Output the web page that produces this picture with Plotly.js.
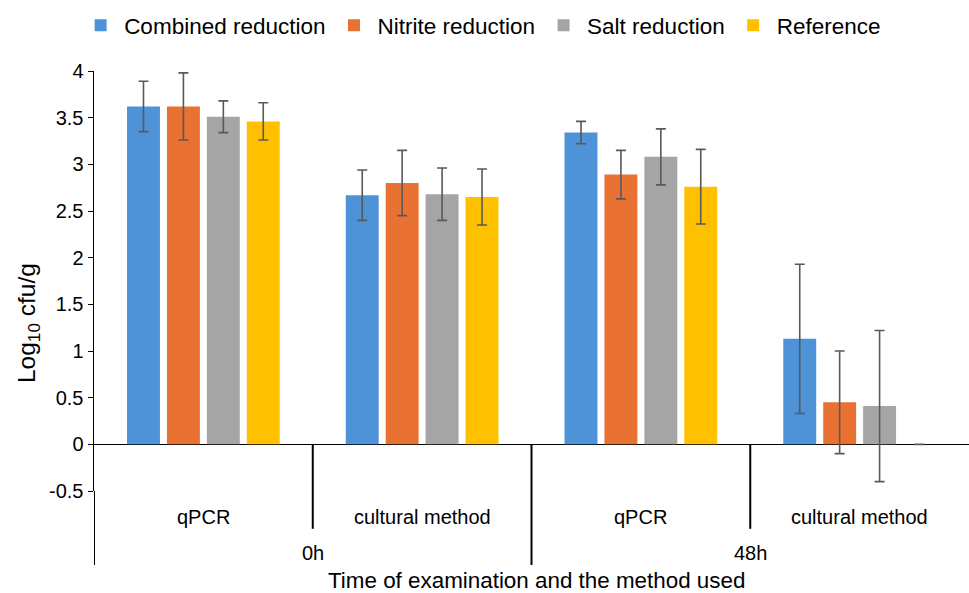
<!DOCTYPE html>
<html>
<head>
<meta charset="utf-8">
<script src="https://cdn.plot.ly/plotly-3.0.1.min.js"></script>
<style>html,body{margin:0;padding:0;background:#fff;}#chart{width:969px;height:593px;}</style>
</head>
<body>
<div id="chart"></div>
<script>
// Data
var outerLabels = ["0h", "0h", "48h", "48h"];
var innerLabels = ["qPCR", "cultural method", "qPCR", "cultural method"];
var seriesNames = ["Combined reduction", "Nitrite reduction", "Salt reduction", "Reference"];
var combined = [3.62, 2.67, 3.34, 1.13];
var combinedErr = [0.27, 0.27, 0.12, 0.80];
var nitrite = [3.62, 2.80, 2.89, 0.45];
var nitriteErr = [0.36, 0.35, 0.26, 0.55];
var salt = [3.51, 2.68, 3.08, 0.41];
var saltErr = [0.17, 0.28, 0.30, 0.81];
var reference = [3.46, 2.65, 2.76, 0];
var referenceErr = [0.20, 0.30, 0.40, 0];
var yTickVals = [-0.5, 0, 0.5, 1, 1.5, 2, 2.5, 3, 3.5, 4];
var yTickText = ["-0.5", "0", "0.5", "1", "1.5", "2", "2.5", "3", "3.5", "4"];
var yTitle = "Log<sub>10</sub> cfu/g";
var xTitle = "Time of examination and the method used";

var colors = ["#4e93d8", "#e97132", "#a5a5a5", "#ffc000"];
var values = [combined, nitrite, salt, reference];
var errs = [combinedErr, nitriteErr, saltErr, referenceErr];
var xIdx = innerLabels.map(function(_, i){ return i; });

var traces = values.map(function(v, k){
  return {
    type: "bar",
    name: seriesNames[k],
    x: xIdx,
    y: v,
    marker: {color: colors[k]},
    error_y: {type: "data", array: errs[k], visible: true, color: "#595959", thickness: 1.6, width: 5}
  };
});

var font = "Liberation Sans, Arial, sans-serif";
var annotations = [];
innerLabels.forEach(function(t, i){
  annotations.push({x: i, xref: "x", y: -0.061, yref: "paper", text: t, showarrow: false,
    font: {family: font, size: 20, color: "#000"}, xanchor: "center", yanchor: "middle"});
});
// outer labels centred on their groups
var groups = {};
outerLabels.forEach(function(o, i){ (groups[o] = groups[o] || []).push(i); });
Object.keys(groups).forEach(function(o){
  var g = groups[o];
  var c = (g[0] + g[g.length - 1]) / 2;
  annotations.push({x: c, xref: "x", y: -0.148, yref: "paper", text: o, showarrow: false,
    font: {family: font, size: 20, color: "#000"}, xanchor: "center", yanchor: "middle"});
});
annotations.push({x: 0.5057, xref: "paper", y: -0.212, yref: "paper", text: xTitle,
  showarrow: false, font: {family: font, size: 22.4, color: "#000"}, xanchor: "center", yanchor: "middle"});
annotations.push({x: -0.0754, xref: "paper", y: 0.40, yref: "paper", text: yTitle, textangle: -90,
  showarrow: false, font: {family: font, size: 24.5, color: "#000"}, xanchor: "center", yanchor: "middle"});

var shapes = [];
for (var i = 0; i < innerLabels.length; i++) {
  var xb = i - 0.5;
  var isOuter = (i === 0) || (outerLabels[i] !== outerLabels[i - 1]);
  shapes.push({type: "line", xref: "x", yref: "paper", x0: xb, x1: xb,
    y0: i === 0 ? 0 : 0.112, y1: isOuter ? -0.176 : -0.09,
    line: {color: "#000", width: 2}});
}

var layout = {
  width: 969, height: 593,
  margin: {l: 94, r: 0, t: 71, b: 102},
  paper_bgcolor: "#fff", plot_bgcolor: "#fff",
  font: {family: font, size: 20, color: "#000"},
  barmode: "group",
  bargap: 0.27,
  bargroupgap: 0.175,
  showlegend: true,
  legend: {orientation: "h", x: 0.443, xanchor: "center", y: 1.108, yanchor: "middle",
    font: {family: font, size: 22.5, color: "#000"}, itemwidth: 37, traceorder: "normal"},
  xaxis: {range: [-0.5, 3.5], showticklabels: false, ticks: "", showgrid: false, zeroline: false,
    showline: false, fixedrange: true},
  yaxis: {range: [-0.5, 4], tickvals: yTickVals, ticktext: yTickText, ticks: "outside", ticklen: 5,
    tickcolor: "#000", tickwidth: 1, showline: true, linecolor: "#000", linewidth: 1.5,
    showgrid: false, zeroline: true, zerolinecolor: "#000", zerolinewidth: 1.5,
    tickfont: {family: font, size: 20, color: "#000"}},
  annotations: annotations,
  shapes: shapes
};

Plotly.newPlot("chart", traces, layout, {displayModeBar: false, staticPlot: true});
</script>
</body>
</html>
